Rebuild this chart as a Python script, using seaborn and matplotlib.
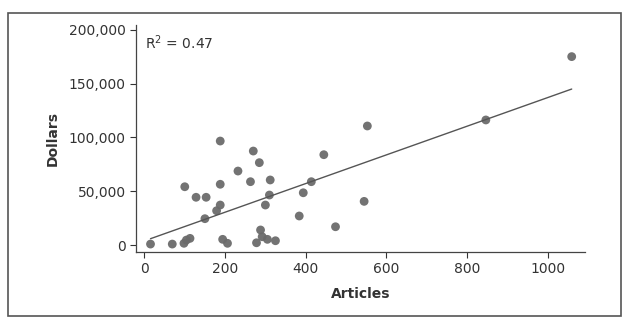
import matplotlib
matplotlib.use("Agg")
import matplotlib.pyplot as plt
import matplotlib.ticker as mticker
from matplotlib.patches import Rectangle
import seaborn as sns
import pandas as pd
import numpy as np

articles = [15, 69, 98, 104, 113, 100, 128, 150, 153, 179, 188, 188, 188, 194, 206,
            232, 263, 270, 278, 285, 288, 292, 300, 305, 310, 312, 325, 384, 394,
            414, 445, 474, 545, 553, 847, 1060]
dollars = [900, 900, 1600, 4600, 6200, 54200, 44400, 24500, 44400, 31900, 37200,
           56500, 96700, 5300, 1600, 68800, 58900, 87400, 2100, 76600, 14000, 7700,
           37200, 5300, 46500, 60500, 4000, 27000, 48600, 58900, 84000, 17000,
           40600, 110700, 116300, 175200]
r2_label = "R$^2$ = 0.47"
x_ticks = [0, 200, 400, 600, 800, 1000]
y_ticks = [0, 50000, 100000, 150000, 200000]

df = pd.DataFrame({"Articles": articles, "Dollars": dollars})

sns.set_style("ticks")
plt.rcParams["font.family"] = ["DejaVu Sans"]

fig = plt.figure(figsize=(6.31, 3.24), dpi=100)
ax = fig.add_axes([136 / 631, 1 - 251.7 / 324, (585 - 136) / 631, (251.7 - 25) / 324])

sns.regplot(data=df, x="Articles", y="Dollars", ax=ax, ci=None, truncate=True,
            scatter_kws={"s": 40, "color": "#6b6b6b", "edgecolor": "none", "alpha": 0.95},
            line_kws={"color": "#555555", "linewidth": 1.0})

ax.set_xlim(-21, 1093)
ax.set_ylim(-6200, 204600)
ax.set_xticks(x_ticks)
ax.set_yticks(y_ticks)
ax.yaxis.set_major_formatter(mticker.FuncFormatter(lambda v, p: f"{int(v):,}"))
ax.tick_params(axis="both", labelsize=10, colors="#333333", length=4, width=0.8)
ax.set_xlabel("Articles", fontsize=10, fontweight="bold", color="#333333", labelpad=8)
ax.set_ylabel("Dollars", fontsize=10, fontweight="bold", color="#333333", labelpad=6)
for s in ["top", "right"]:
    ax.spines[s].set_visible(False)
for s in ["left", "bottom"]:
    ax.spines[s].set_color("#444444")
    ax.spines[s].set_linewidth(0.9)

ax.text(0.02, 0.965, r2_label, transform=ax.transAxes, fontsize=10,
        color="#333333", va="top", ha="left")

fig.patches.append(Rectangle((8 / 631, 1 - 316 / 324), (621 - 8) / 631, (316 - 13) / 324,
                             transform=fig.transFigure, fill=False,
                             edgecolor="#555555", linewidth=1.2))

fig.savefig("out.png", dpi=100)
